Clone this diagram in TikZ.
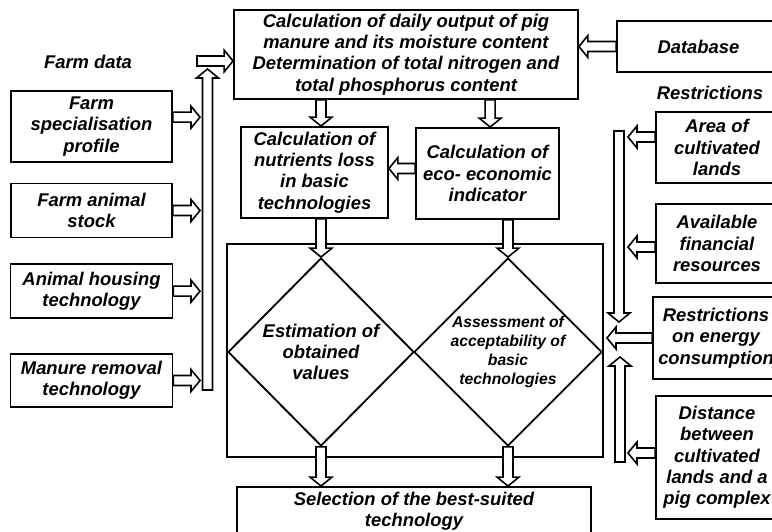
\documentclass[tikz,border=0pt]{standalone}
\usepackage{fontspec}
\setmainfont{Liberation Sans}
\usetikzlibrary{shapes.geometric,calc}
\newcommand{\bitxt}{\fontsize{13.8}{16}\selectfont\bfseries\itshape}
\newcommand{\bismall}{\fontsize{11.8}{14.25}\selectfont\bfseries\itshape}
\tikzset{
  box/.style={draw,rectangle,line width=1.4pt,align=center,inner sep=1pt,font=\bitxt},
  lbl/.style={align=center,font=\bitxt},
  fat/.style={draw,fill=white,line width=1.2pt,
    to path={let \p1=(\tikztostart), \p2=(\tikztotarget),
      \n1={atan2(\y2-\y1,\x2-\x1)}, \n2={veclen(\x2-\x1,\y2-\y1)} in
      {[shift={(\p1)},rotate=\n1]
      (0pt,-3.75pt) -- (\n2-6.75pt,-3.75pt) -- (\n2-6.75pt,-8.25pt) -- (\n2,0pt)
      -- (\n2-6.75pt,8.25pt) -- (\n2-6.75pt,3.75pt) -- (0pt,3.75pt) -- cycle}}}
}
\begin{document}
\begin{tikzpicture}[x=0.75pt,y=-0.75pt,node distance=63pt]
\useasboundingbox (0,0) rectangle (772,532);

% top row
\node[box,minimum width=258pt,minimum height=66.75pt] (calc) at (406,54.5)
  {Calculation of daily output of pig\\manure and its moisture content\\Determination of total nitrogen and\\total phosphorus content};
\node[box,minimum width=122.25pt,minimum height=38.25pt] (database) at (698.5,46.5) {Database};
\node[lbl] (farmdata) at (88,62) {Farm data};
\node[lbl] (restr) at (710,93) {Restrictions};

% farm data column
\node[box,minimum width=120.75pt,minimum height=53.25pt] (spec) at (91.5,126.5) {Farm\\specialisation\\profile};
\node[box,minimum width=120.75pt,minimum height=40.5pt] (stock) [below of=spec] {Farm animal\\stock};
\node[box,minimum width=121.5pt,minimum height=40.5pt] (housing) [below of=stock,yshift=2.5pt] {Animal housing\\technology};
\node[box,minimum width=121.5pt,minimum height=39.75pt] (removal) [below of=housing,yshift=-4pt] {Manure removal\\technology};

% middle
\node[box,minimum width=110.25pt,minimum height=68.25pt] (nutr) at (314.5,172.5) {Calculation of\\nutrients loss\\in basic\\technologies};
\node[box,minimum width=107.25pt,minimum height=68.25pt] (eco) at (487.5,173.5) {Calculation of\\eco- economic\\indicator};
\node[draw,rectangle,line width=1.4pt,minimum width=282pt,minimum height=159.75pt] (frame) at (415,350.5) {};
\node[draw,diamond,line width=1.4pt,inner sep=0pt,minimum width=139.5pt,minimum height=141pt,
  label={[lbl]center:Estimation of\\obtained\\values}] (ldia) at (321,352) {};
\node[draw,diamond,line width=1.4pt,inner sep=0pt,minimum width=141pt,minimum height=141pt,
  label={[lbl,font=\bismall]center:Assessment of\\acceptability of\\basic\\technologies}] (rdia) at (508,352) {};
\node[box,minimum width=265.5pt,minimum height=36pt] (sel) at (414,511) {Selection of the best-suited\\technology};

% restrictions column
\node[box,minimum width=91.5pt,minimum height=53.25pt] (area) at (717,147.5) {Area of\\cultivated\\lands};
\node[box,minimum width=91.5pt,minimum height=59.25pt] (fin) at (717,243.5) {Available\\financial\\resources};
\node[box,minimum width=94.5pt,minimum height=61.5pt] (energy) at (716,338) {Restrictions\\on energy\\consumption};
\node[box,minimum width=91.5pt,minimum height=92.25pt] (dist) at (717,457.5) {Distance\\between\\cultivated\\lands and a\\pig complex};

% bars
\coordinate (fdin) at (197,61);
\coordinate (lbarbot) at (207.5,390);
\coordinate (lbartop) at (207.5,69);
\coordinate (lbarW) at (200,0);
\coordinate (rbartop) at (619,131);
\coordinate (rbarmid) at (619,322);
\coordinate (rbarbot) at (620,462);
\coordinate (rbarlow) at (620,357);
\coordinate (rbarE) at (628,0);
\coordinate (rtip) at (607,0);

\draw[fat] (database.west) to (database.west -| calc.east);
\draw[fat] (lbarbot) to (lbartop);
\draw[fat] (fdin) to (fdin -| calc.west);
\draw[fat] ([yshift=7pt]spec.east) to ([yshift=7pt]spec.east -| lbarW);
\draw[fat] (stock.east) to (stock.east -| lbarW);
\draw[fat] (housing.east) to (housing.east -| lbarW);
\draw[fat] (removal.east) to (removal.east -| lbarW);

\draw[fat] (ldia.north |- calc.south) to (ldia.north |- nutr.north);
\draw[fat] ([xshift=2pt]eco.north |- calc.south) to ([xshift=2pt]eco.north);
\draw[fat] ([yshift=3.75pt]eco.west) to ([yshift=3.75pt]eco.west -| nutr.east);
\draw[fat] (nutr.south -| ldia.north) to (ldia.north);
\draw[fat] (eco.south -| rdia.north) to (rdia.north);
\draw[fat] (ldia.south) to (ldia.south |- sel.north);
\draw[fat] (rdia.south) to (rdia.south |- sel.north);

\draw[fat] (rbartop) to (rbarmid);
\draw[fat] (rbarbot) to (rbarlow);
\draw[fat] ([yshift=7.9pt]area.west) to ([yshift=7.9pt]area.west -| rbarE);
\draw[fat] ([yshift=-2.6pt]fin.west) to ([yshift=-2.6pt]fin.west -| rbarE);
\draw[fat] (energy.west) to (energy.west -| rtip);
\draw[fat] ([yshift=3.4pt]dist.west) to ([yshift=3.4pt]dist.west -| rbarE);
\end{tikzpicture}
\end{document}
